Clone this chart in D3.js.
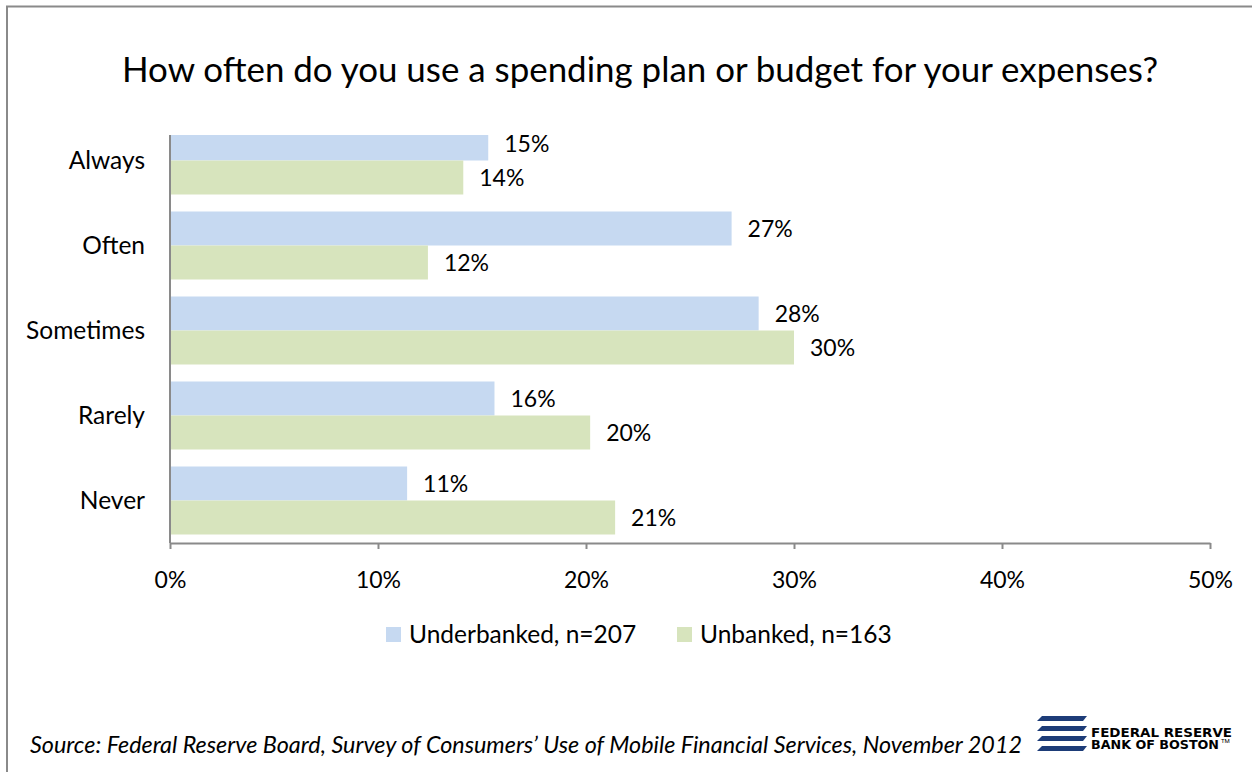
<!DOCTYPE html>
<html>
<head>
<meta charset="utf-8">
<script src="https://cdn.jsdelivr.net/npm/d3@7"></script>
<style>
  html, body { margin: 0; padding: 0; background: #fff; }
  svg { display: block; }
  text { font-family: Lato, "Open Sans", sans-serif; fill: #000; }
</style>
</head>
<body>
<svg id="chart" width="1252" height="772"></svg>
<script>
// ---- Data ----
const categories = ["Always", "Often", "Sometimes", "Rarely", "Never"];
const seriesNames = ["Underbanked, n=207", "Unbanked, n=163"];
const underbanked = [15.3, 27.0, 28.3, 15.6, 11.4];
const unbanked = [14.1, 12.4, 30.0, 20.2, 21.4];
const xTicks = [0, 10, 20, 30, 40, 50];
const titleText = "How often do you use a spending plan or budget for your expenses?";
const sourceText = "Source: Federal Reserve Board, Survey of Consumers\u2019 Use of Mobile Financial Services, November 2012";

const colors = ["#c6d9f1", "#d7e4bd"];
const seriesValues = [underbanked, unbanked];

const svg = d3.select("#chart");

// frame
svg.append("path")
  .attr("d", "M7,772 V6.5 H1252")
  .attr("fill", "none").attr("stroke", "#8a8a8a").attr("stroke-width", 2);

// title
svg.append("text")
  .attr("x", 640).attr("y", 82)
  .attr("text-anchor", "middle")
  .style("font-size", "35px")
  .attr("textLength", 1036).attr("lengthAdjust", "spacingAndGlyphs")
  .text(titleText);

// scales
const x = d3.scaleLinear().domain([0, 50]).range([170, 1210]);
const y = d3.scaleBand().domain(categories).range([118, 543]).paddingInner(0.2).paddingOuter(0.1);
const ySub = d3.scaleBand().domain([0, 1]).range([0, y.bandwidth()]);

// clip
svg.append("clipPath").attr("id", "plotclip")
  .append("rect").attr("x", 150).attr("y", 135).attr("width", 1100).attr("height", 420);

const plot = svg.append("g").attr("clip-path", "url(#plotclip)");

const rows = categories.map((c, i) => ({ c, vals: seriesValues.map(s => s[i]) }));

rows.forEach(r => {
  r.vals.forEach((v, si) => {
    plot.append("rect")
      .attr("x", x(0))
      .attr("y", y(r.c) + ySub(si))
      .attr("width", x(v) - x(0))
      .attr("height", ySub.bandwidth())
      .attr("fill", colors[si]);
    svg.append("text")
      .attr("x", x(v) + 16)
      .attr("y", y(r.c) + ySub(si) + ySub.bandwidth() / 2)
      .attr("dy", "0.36em")
      .style("font-size", "23px")
      .text(Math.round(v) + "%");
  });
});

// category labels
categories.forEach(c => {
  svg.append("text")
    .attr("x", 145)
    .attr("y", y(c) + y.bandwidth() / 2)
    .attr("dy", "0.36em")
    .attr("text-anchor", "end")
    .style("font-size", "24.5px")
    .text(c);
});

// y axis line
svg.append("line")
  .attr("x1", x(0)).attr("x2", x(0))
  .attr("y1", 135).attr("y2", 543)
  .attr("stroke", "#8a8a8a").attr("stroke-width", 2);

// x axis
const xAxis = d3.axisBottom(x).tickValues(xTicks).tickSize(6).tickSizeOuter(0)
  .tickFormat(d => d + "%");
const gx = svg.append("g").attr("transform", "translate(0,543)").call(xAxis);
gx.select(".domain").attr("stroke", "#8a8a8a").attr("stroke-width", 2);
gx.selectAll(".tick line").attr("stroke", "#8a8a8a").attr("stroke-width", 2);
gx.selectAll(".tick text")
  .attr("y", 0).attr("dy", 0)
  .attr("transform", "translate(0,45)")
  .style("font-size", "23px")
  .style("font-family", "Lato, sans-serif")
  .attr("fill", "#000");

// legend
const legendItems = [
  { name: seriesNames[0], color: colors[0], x: 386 },
  { name: seriesNames[1], color: colors[1], x: 677 }
];
legendItems.forEach(it => {
  svg.append("rect").attr("x", it.x).attr("y", 627).attr("width", 15).attr("height", 15).attr("fill", it.color);
  svg.append("text").attr("x", it.x + 23).attr("y", 643)
    .style("font-size", "24.5px").text(it.name);
});

// source
svg.append("text")
  .attr("x", 30).attr("y", 753)
  .style("font-size", "23.4px").style("font-style", "italic")
  .attr("textLength", 992).attr("lengthAdjust", "spacingAndGlyphs")
  .text(sourceText);

// logo
const logo = svg.append("g");
[716, 726, 736, 746].forEach(yy => {
  logo.append("path")
    .attr("d", `M${1042},${yy} L${1087},${yy} L${1083},${yy + 5} L${1037},${yy + 5} Z`)
    .attr("fill", "#1d3c78");
});
logo.append("text").attr("x", 1091).attr("y", 737)
  .style("font-size", "11.5px").style("font-weight", "bold").style("font-family", "'DejaVu Sans', sans-serif")
  .attr("fill", "#2a4f94").attr("textLength", 141).attr("lengthAdjust", "spacingAndGlyphs").text("FEDERAL RESERVE");
logo.append("text").attr("x", 1091).attr("y", 748.5)
  .style("font-size", "11.5px").style("font-weight", "bold").style("font-family", "'DejaVu Sans', sans-serif")
  .attr("fill", "#2a4f94").attr("textLength", 128).attr("lengthAdjust", "spacingAndGlyphs").text("BANK OF BOSTON");
logo.append("text").attr("x", 1221).attr("y", 743)
  .style("font-size", "6px").style("font-family", "Roboto, sans-serif")
  .attr("fill", "#2a4f94").text("TM");
</script>
</body>
</html>
